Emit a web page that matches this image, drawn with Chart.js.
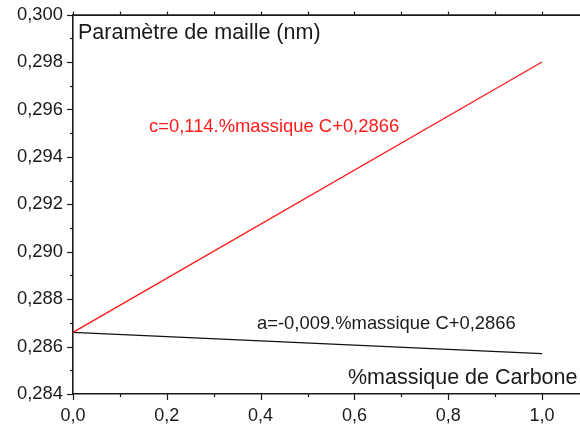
<!DOCTYPE html>
<html>
<head>
<meta charset="utf-8">
<script src="https://cdn.jsdelivr.net/npm/chart.js@4"></script>
<style>
  html, body { margin: 0; padding: 0; background: #fff; }
  #wrap { width: 580px; height: 425px; }
</style>
</head>
<body>
<div id="wrap"><canvas id="c" width="580" height="425"></canvas></div>
<script>
// ---- data ----
const xCarbon = [0.0, 1.0];
const cValues = [0.2866, 0.2980];
const aValues = [0.2866, 0.2857];
const xTickValues = [0.0, 0.2, 0.4, 0.6, 0.8, 1.0];
const xTickLabels = ['0,0', '0,2', '0,4', '0,6', '0,8', '1,0'];
const yTickValues = [0.284, 0.286, 0.288, 0.290, 0.292, 0.294, 0.296, 0.298, 0.300];
const yTickLabels = ['0,284', '0,286', '0,288', '0,290', '0,292', '0,294', '0,296', '0,298', '0,300'];
const titleText = 'Paramètre de maille (nm)';
const xAxisText = '%massique de Carbone';
const cEquation = 'c=0,114.%massique C+0,2866';
const aEquation = 'a=-0,009.%massique C+0,2866';

const FONT = '"Liberation Sans", Arial, sans-serif';
const AXIS = '#1a1a1a';

const annotations = {
  id: 'annotations',
  afterDraw(chart) {
    const ctx = chart.ctx;
    const a = chart.chartArea;
    const xs = chart.scales.x, ys = chart.scales.y;
    ctx.save();
    ctx.strokeStyle = AXIS;
    ctx.lineWidth = 1.2;
    for (let i = 0; i <= 16; i++) {
      const v = ys.min + i * 0.001;
      const y = Math.round(ys.getPixelForValue(v)) + 0.5;
      const len = (i % 2 === 0) ? 6 : 3;
      ctx.beginPath(); ctx.moveTo(a.left - len, y); ctx.lineTo(a.left, y); ctx.stroke();
    }
    for (let i = 0; i <= 10; i++) {
      const v = i * 0.1;
      const x = Math.round(xs.getPixelForValue(v)) + 0.5;
      const len = (i % 2 === 0) ? 6 : 3;
      ctx.beginPath(); ctx.moveTo(x, a.bottom); ctx.lineTo(x, a.bottom + len); ctx.stroke();
      ctx.beginPath(); ctx.moveTo(x, a.top - 3); ctx.lineTo(x, a.top); ctx.stroke();
    }
    ctx.lineWidth = 1.6;
    ctx.beginPath(); ctx.moveTo(a.left, a.top + 0.5); ctx.lineTo(a.right, a.top + 0.5); ctx.stroke();

    ctx.textBaseline = 'alphabetic';
    ctx.textAlign = 'left';
    ctx.fillStyle = '#1a1a1a';
    ctx.font = '21.5px ' + FONT;
    ctx.fillText(titleText, 78, 39);
    ctx.fillText(xAxisText, 348, 384);
    ctx.font = '18.4px ' + FONT;
    ctx.fillStyle = '#ff1a1a';
    ctx.fillText(cEquation, 149, 132);
    ctx.fillStyle = '#1a1a1a';
    ctx.fillText(aEquation, 257, 329);
    ctx.restore();
  }
};

new Chart(document.getElementById('c'), {
  type: 'line',
  data: {
    datasets: [
      {
        label: 'c',
        data: xCarbon.map((x, i) => ({ x: x, y: cValues[i] })),
        borderColor: '#ff1a1a',
        borderWidth: 1.3,
        pointRadius: 0,
        tension: 0
      },
      {
        label: 'a',
        data: xCarbon.map((x, i) => ({ x: x, y: aValues[i] })),
        borderColor: '#111111',
        borderWidth: 1.3,
        pointRadius: 0,
        tension: 0
      }
    ]
  },
  options: {
    responsive: false,
    animation: false,
    devicePixelRatio: 1,
    layout: { padding: { top: 14, left: 0, right: 0, bottom: 0 } },
    plugins: { legend: { display: false }, tooltip: { enabled: false }, title: { display: false } },
    scales: {
      x: {
        type: 'linear',
        min: 0,
        max: 1.081,
        afterBuildTicks(scale) { scale.ticks = xTickValues.map(v => ({ value: v })); },
        afterFit(scale) { scale.height = 31; },
        grid: { display: true, drawOnChartArea: false, drawTicks: false },
        border: { display: true, color: AXIS, width: 1.6 },
        ticks: {
          padding: 11,
          color: '#1a1a1a',
          font: { family: FONT, size: 18 },
          maxRotation: 0,
          autoSkip: false,
          callback(value, index) { return xTickLabels[index]; }
        }
      },
      y: {
        type: 'linear',
        min: 0.284,
        max: 0.300,
        afterBuildTicks(scale) { scale.ticks = yTickValues.map(v => ({ value: v })); },
        afterFit(scale) { scale.width = 73; },
        grid: { display: true, drawOnChartArea: false, drawTicks: false },
        border: { display: true, color: AXIS, width: 1.6 },
        ticks: {
          padding: 10,
          color: '#1a1a1a',
          font: { family: FONT, size: 18.4, lineHeight: 0.5 },
          autoSkip: false,
          callback(value, index) { return yTickLabels[index]; }
        }
      }
    }
  },
  plugins: [annotations]
});
</script>
</body>
</html>
